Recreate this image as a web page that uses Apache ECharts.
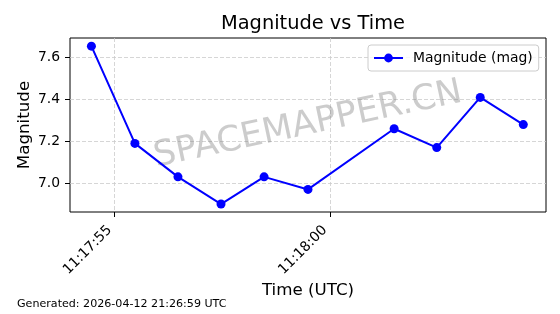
<!DOCTYPE html>
<html>
<head>
<meta charset="utf-8">
<script src="https://cdn.jsdelivr.net/npm/echarts/dist/echarts.min.js"></script>
<style>
html,body{margin:0;padding:0;background:#fff;}
#chart{width:560px;height:314px;}
</style>
</head>
<body>
<div id="chart"></div>
<script>
const baseDate = '2026-04-12';
const times = ['11:17:54.460','11:17:55.470','11:17:56.470','11:17:57.470','11:17:58.470','11:17:59.490','11:18:01.490','11:18:02.480','11:18:03.490','11:18:04.490'];
const magnitudes = [7.655, 7.19, 7.03, 6.90, 7.03, 6.97, 7.26, 7.17, 7.41, 7.28];
const xTickTimes = ['11:17:55.000', '11:18:00.000'];
const xRange = ['11:17:53.963', '11:18:05.017'];
const yTickValues = [7.0, 7.2, 7.4, 7.6];
const yRange = [6.862, 7.694];
const seriesName = 'Magnitude (mag)';
const titleText = 'Magnitude vs Time';
const xName = 'Time (UTC)';
const yName = 'Magnitude';
const footerText = 'Generated: 2026-04-12 21:26:59 UTC';
const watermarkText = 'SPACEMAPPER.CN';

function toMs(t) { return Date.parse(baseDate + 'T' + t + 'Z'); }
function pad(n) { return (n < 10 ? '0' : '') + n; }
function fmt(v) {
  const d = new Date(Math.round(v));
  return pad(d.getUTCHours()) + ':' + pad(d.getUTCMinutes()) + ':' + pad(d.getUTCSeconds());
}

const FONT = 'DejaVu Sans';
const data = times.map((t, i) => [toMs(t), magnitudes[i]]);
const xTicks = xTickTimes.map(toMs);

const chart = echarts.init(document.getElementById('chart'), null, {renderer: 'canvas'});
chart.setOption({
  animation: false,
  backgroundColor: '#ffffff',
  textStyle: {fontFamily: FONT},
  title: {
    text: titleText,
    left: 308, top: 9, textAlign: 'center',
    textStyle: {fontFamily: FONT, fontSize: 19.4, fontWeight: 'normal', color: '#000'}
  },
  legend: {
    data: [seriesName],
    left: 368, top: 45,
    itemWidth: 29, itemHeight: 11,
    padding: [6, 6, 6, 5],
    backgroundColor: 'rgba(255,255,255,0.8)',
    borderColor: '#cccccc', borderWidth: 1, borderRadius: 3,
    textStyle: {fontFamily: FONT, fontSize: 13.9, color: '#000', padding: [0, 0, 0, 5]}
  },
  grid: {
    left: 70, right: 14, top: 38, bottom: 102,
    show: true, borderColor: '#000', borderWidth: 1, backgroundColor: 'transparent'
  },
  xAxis: {
    type: 'value',
    min: toMs(xRange[0]), max: toMs(xRange[1]),
    scale: true,
    name: xName, nameLocation: 'middle', nameGap: 70, nameMoveOverlap: false,
    nameTextStyle: {fontFamily: FONT, fontSize: 16.7, color: '#000'},
    axisLine: {show: false},
    axisTick: {show: true, length: 5, lineStyle: {color: '#000', width: 1}, customValues: xTicks},
    axisLabel: {
      customValues: xTicks, rotate: 45, margin: 21, verticalAlign: 'bottom',
      fontFamily: FONT, fontSize: 13.9, color: '#000',
      formatter: fmt, hideOverlap: false
    },
    splitLine: {show: true, lineStyle: {color: '#cccccc', width: 0.8, type: [4, 2]}}
  },
  yAxis: {
    type: 'value',
    min: yRange[0], max: yRange[1],
    name: yName, nameLocation: 'middle', nameGap: 37, nameRotate: 90, nameMoveOverlap: false,
    nameTextStyle: {fontFamily: FONT, fontSize: 16.7, color: '#000'},
    axisLine: {show: false},
    axisTick: {show: true, length: 5, lineStyle: {color: '#000', width: 1}, customValues: yTickValues},
    axisLabel: {
      customValues: yTickValues, margin: 10,
      fontFamily: FONT, fontSize: 13.9, color: '#000',
      formatter: v => v.toFixed(1)
    },
    splitLine: {show: true, lineStyle: {color: '#cccccc', width: 0.8, type: [4, 2]}}
  },
  graphic: [
    {
      type: 'text', x: 308, y: 125, rotation: 12 * Math.PI / 180, z: 1,
      style: {text: watermarkText, fontFamily: FONT, fontSize: 35, fill: 'rgba(128,128,128,0.4)', align: 'center', verticalAlign: 'middle'}
    },
    {
      type: 'text', left: 17, top: 299,
      style: {text: footerText, fontFamily: FONT, fontSize: 11.1, fill: '#000'}
    }
  ],
  series: [{
    name: seriesName,
    type: 'line',
    data: data,
    symbol: 'circle', symbolSize: 9,
    lineStyle: {color: '#0000ff', width: 2},
    itemStyle: {color: '#0000ff'},
    z: 3
  }]
});
</script>
</body>
</html>
